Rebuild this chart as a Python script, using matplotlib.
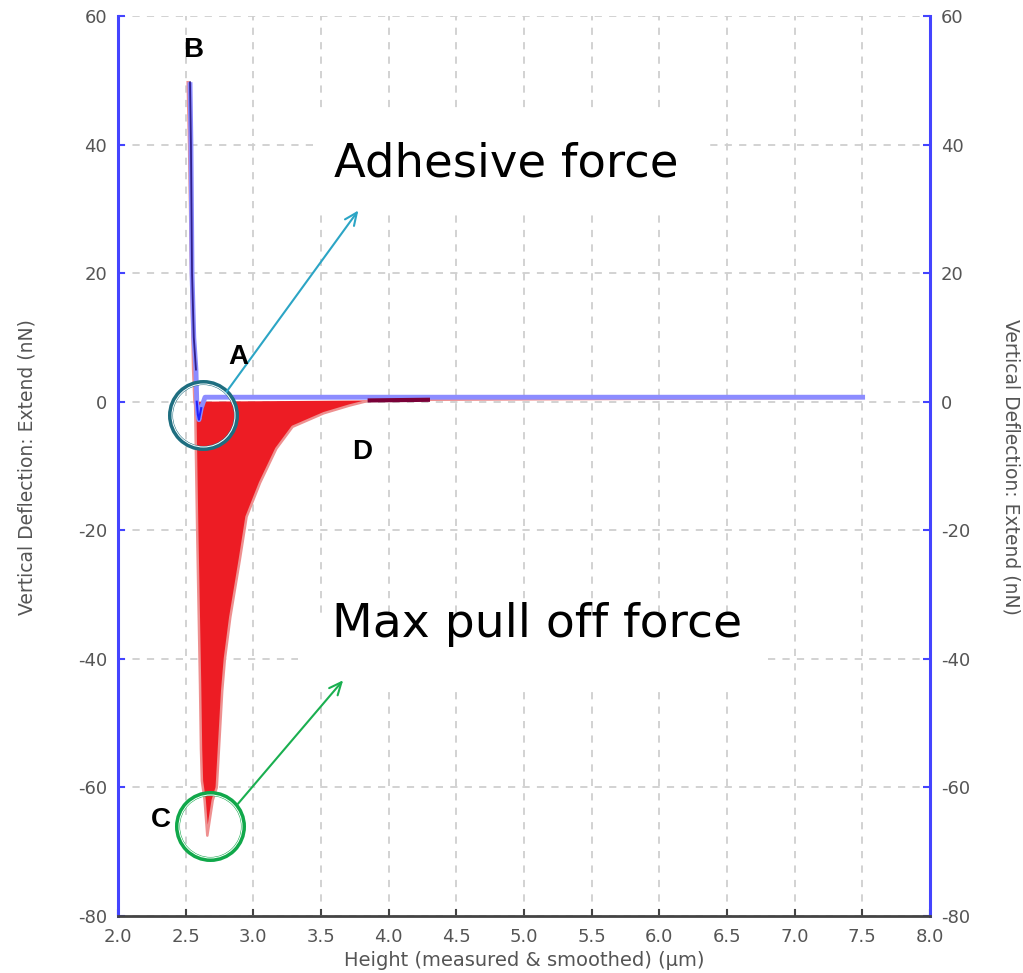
import matplotlib
matplotlib.use("Agg")
import matplotlib.pyplot as plt
from matplotlib.patches import Rectangle
import numpy as np

plt.rcParams["axes.unicode_minus"] = False
plt.rcParams["font.family"] = "DejaVu Sans"

## data

# extend curve (blue), height in um, deflection in nN
ext_x = [2.532, 2.539, 2.547, 2.560, 2.576, 2.582, 2.590, 2.598, 2.615, 2.643, 7.52]
ext_y = [49.7, 40.0, 20.0, 10.0, 5.0, 0.0, -2.0, -2.8, -1.0, 0.7, 0.7]

# retract curve (red), goes down the left edge and back up the right edge
ret_x = [2.515, 2.525, 2.540, 2.555, 2.565, 2.570, 2.585, 2.606, 2.613, 2.620, 2.640,
         2.660, 2.700, 2.730, 2.746, 2.770, 2.790, 2.830, 2.900, 2.950, 3.050, 3.170,
         3.290, 3.520, 3.710, 3.860, 4.290, 7.500]
ret_y = [49.7, 40.0, 20.0, 5.0, 0.0, -0.5, -20.0, -44.0, -54.0, -59.0, -62.0,
         -67.5, -62.0, -60.0, -54.0, -45.0, -40.0, -33.5, -24.6, -17.9, -12.6, -7.3,
         -3.9, -1.8, -0.6, 0.2, 0.3, 0.6]

x_ticks = [2.0, 2.5, 3.0, 3.5, 4.0, 4.5, 5.0, 5.5, 6.0, 6.5, 7.0, 7.5, 8.0]
y_ticks = [-80, -60, -40, -20, 0, 20, 40, 60]

# annotation points (data coords)
adh_circle = (2.628, -2.0)
max_circle = (2.68, -66.0)
adh_arrow = [(2.783, 1.0), (3.788, 30.1)]
max_arrow = [(2.872, -62.9), (3.677, -43.0)]
letters = {"B": (2.554, 54.7), "A": (2.887, 7.0), "D": (3.803, -7.8), "C": (2.318, -65.1)}

## figure

W, H = 1023, 973
fig = plt.figure(figsize=(W / 100, H / 100), dpi=100)
ax = fig.add_axes([118 / W, 1 - 916 / H, (930 - 118) / W, (916 - 16) / H])

blue_spine = "#4444ff"
grey_txt = "#555555"

ax.set_xlim(2.0, 8.0)
ax.set_ylim(-80, 60)
ax.set_xticks(x_ticks)
ax.set_xticklabels(["%.1f" % v for v in x_ticks])
ax.set_yticks(y_ticks)
ax.grid(True, color="#cfcfcf", linestyle=(0, (4, 4)), linewidth=1.3)
ax.set_axisbelow(True)

ax.spines["top"].set_visible(False)
ax.spines["left"].set_color(blue_spine)
ax.spines["left"].set_linewidth(2.2)
ax.spines["right"].set_color(blue_spine)
ax.spines["right"].set_linewidth(2.2)
ax.spines["bottom"].set_color("#444444")
ax.spines["bottom"].set_linewidth(2.0)

ax.tick_params(axis="y", direction="in", length=5, width=1.5, color=blue_spine,
               labelsize=13, labelcolor=grey_txt, pad=8,
               left=True, right=True, labelleft=True, labelright=True)
ax.tick_params(axis="x", direction="in", length=5, width=1.5, color="#444444",
               labelsize=13, labelcolor=grey_txt, pad=9)

# white boxes behind the big labels (they hide the grid)
ax.add_patch(Rectangle((3.44, 29.8), 2.9, 15.0, facecolor="white", edgecolor="none", zorder=1))
ax.add_patch(Rectangle((3.33, -44.5), 3.45, 11.6, facecolor="white", edgecolor="none", zorder=1))

# retract: filled adhesion region + outline
rx = np.array(ret_x)
ry = np.array(ret_y)
ax.fill(rx[4:26], ry[4:26], color="#ed1c24", zorder=2, linewidth=0)
ax.plot(rx, ry, color="#ee9090", lw=1.8, zorder=3)
ax.plot(rx[25:27], ry[25:27], color="#7a0038", lw=3, zorder=5)

# extend
ax.plot(ext_x, ext_y, color="#8c8cff", lw=3.5, zorder=4, solid_capstyle="butt")
ax.plot(ext_x[:5], ext_y[:5], color="#30208a", lw=1.3, zorder=4)
ax.plot(ext_x[5:9], ext_y[5:9], color="#2020ff", lw=1.5, zorder=4)

# circles (double ring)
px = 0.72
for (cx, cy), col in [(adh_circle, "#1e6e80"), (max_circle, "#10a84a")]:
    ax.plot([cx], [cy], marker="o", ms=66 * px, mfc="none", mec=col, mew=5 * px, zorder=6)
    ax.plot([cx], [cy], marker="o", ms=63 * px, mfc="none", mec="white", mew=1 * px, zorder=7)

# arrows
for (p0, p1), col in [(adh_arrow, "#2ca5c5"), (max_arrow, "#1aaf50")]:
    ax.annotate("", xy=p1, xytext=p0,
                arrowprops=dict(arrowstyle="->,head_length=0.9,head_width=0.4",
                                color=col, lw=1.5), zorder=6)

ax.text(4.867, 37.0, "Adhesive force", fontsize=33.5, ha="center", va="center", zorder=8)
ax.text(5.10, -34.7, "Max pull off force", fontsize=34, ha="center", va="center", zorder=8)

for s, (lx, ly) in letters.items():
    ax.text(lx, ly, s, fontsize=20, fontweight="bold", family="Liberation Sans",
            ha="center", va="center", zorder=8)

# axis titles
fig.text(27 / W, 1 - 467 / H, "Vertical Deflection: Extend (nN)", rotation=90,
         ha="center", va="center", fontsize=13.5, color=grey_txt)
fig.text(1011 / W, 1 - 467 / H, "Vertical Deflection: Extend (nN)", rotation=270,
         ha="center", va="center", fontsize=13.5, color=grey_txt)
fig.text(524 / W, 1 - 961 / H, "Height (measured & smoothed) (\u00b5m)",
         ha="center", va="center", fontsize=14, color=grey_txt)

fig.savefig("out.png", dpi=100)
